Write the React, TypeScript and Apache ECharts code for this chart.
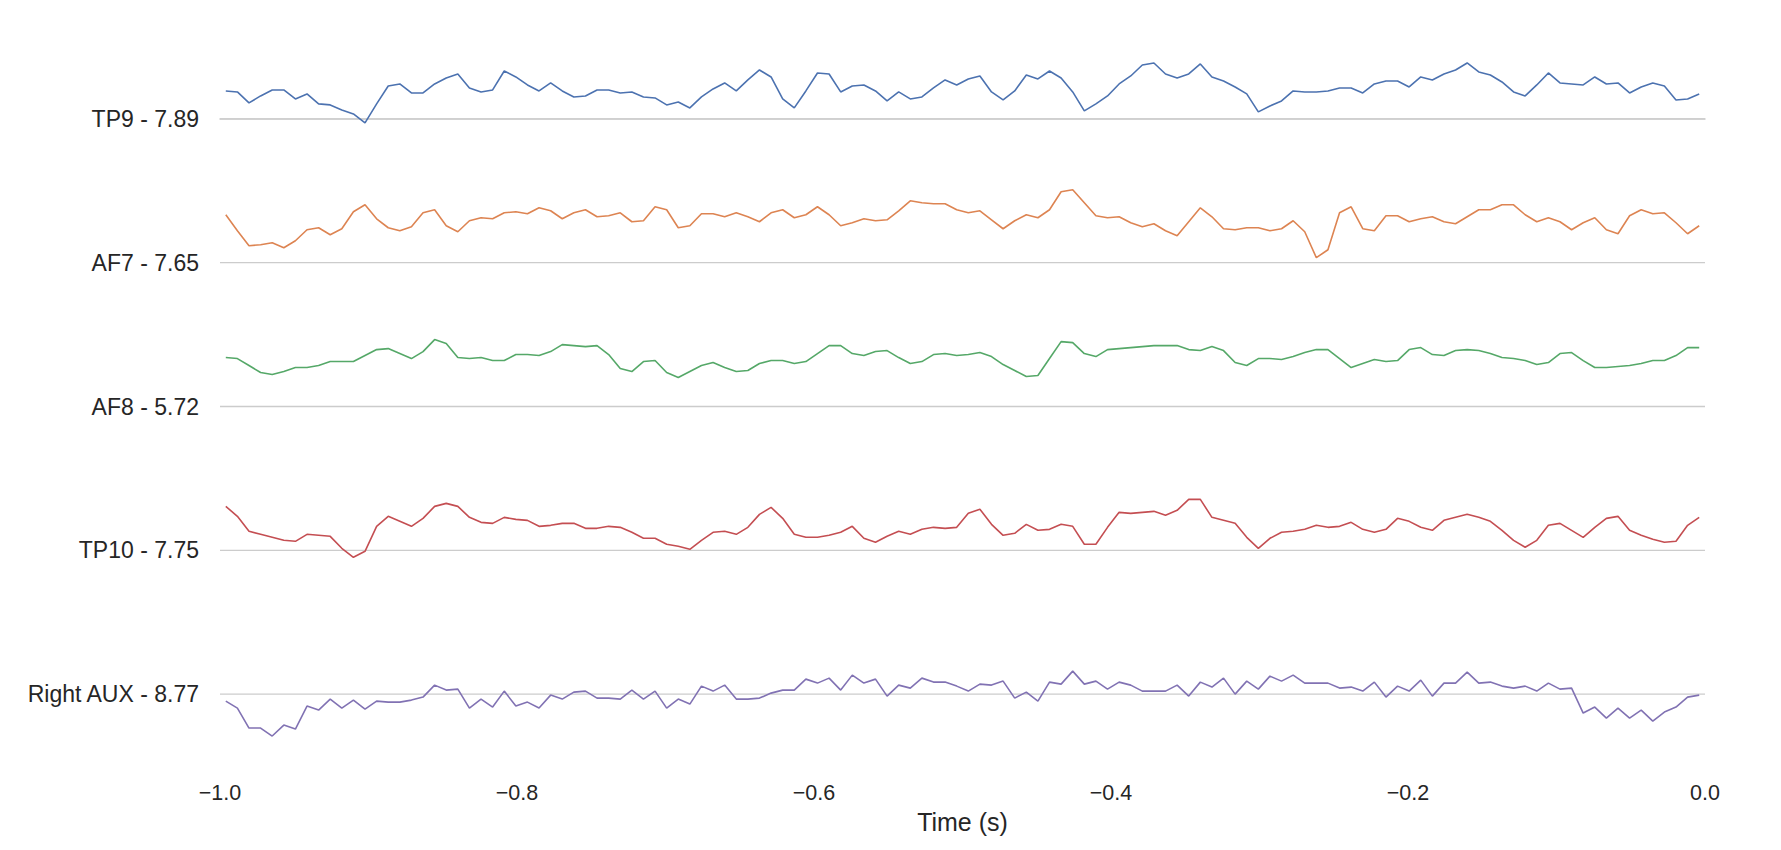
import React, { useEffect, useRef } from "react";
import * as echarts from "echarts";

// Channel labels (top to bottom)
const CHANNELS = ["TP9 - 7.89", "AF7 - 7.65", "AF8 - 5.72", "TP10 - 7.75", "Right AUX - 8.77"];
const COLORS = ["#4C72B0", "#DD8452", "#55A868", "#C44E52", "#8172B3"];
const X_TICKS = [-1.0, -0.8, -0.6, -0.4, -0.2, 0.0];

// Sample rate of the (decimated) traces, 128 samples over the last second
const N_SAMPLES = 128;
const TIME = Array.from({ length: N_SAMPLES }, (_, k) => -1 + (k + 0.5) / N_SAMPLES);

// Amplitudes above each channel's baseline (display units; 144 units = one row)
const ROW_UNITS = 144;

const TP9 = [
  28, 27, 16, 23, 29, 29, 20, 25, 15, 14, 9, 5, -4, 15, 33, 35, 26, 26, 35, 41,
  45, 31, 27, 29, 48, 42, 34, 28, 36, 28, 22, 23, 29, 29, 26, 27, 22, 21, 14, 17,
  11, 22, 30, 36, 28, 39, 49, 42, 20, 11, 28, 46, 45, 27, 33, 34, 28, 18, 27, 20,
  22, 31, 39, 34, 40, 43, 27, 19, 28, 44, 40, 48, 41, 27, 8, 15, 23, 35, 43, 54,
  56, 45, 41, 45, 55, 42, 38, 32, 25, 7, 13, 18, 28, 27, 27, 28, 31, 31, 26, 35,
  38, 38, 32, 42, 39, 45, 49, 56, 47, 44, 37, 27, 23, 34, 46, 36, 35, 34, 42, 35,
  36, 26, 32, 36, 33, 19, 20, 25,
];

const AF7 = [
  48, 32, 17, 18, 20, 15, 22, 33, 35, 28, 34, 51, 58, 44, 35, 32, 36, 50, 53, 37,
  31, 42, 45, 44, 50, 51, 49, 55, 52, 44, 50, 53, 46, 47, 50, 41, 42, 56, 53, 35,
  37, 49, 49, 46, 50, 46, 41, 50, 53, 45, 48, 56, 48, 37, 40, 44, 42, 43, 52, 62,
  60, 59, 59, 53, 50, 52, 43, 34, 42, 48, 45, 53, 71, 73, 60, 47, 45, 46, 40, 36,
  39, 32, 27, 41, 55, 46, 34, 33, 35, 35, 32, 34, 42, 31, 5, 13, 50, 56, 34, 32,
  47, 47, 41, 44, 46, 41, 39, 46, 53, 53, 58, 58, 48, 41, 45, 41, 33, 40, 45, 33,
  29, 47, 53, 49, 50, 40, 29, 37,
];

const AF8 = [
  49, 48, 41, 34, 32, 35, 39, 39, 41, 45, 45, 45, 51, 57, 58, 53, 48, 55, 67, 63,
  49, 48, 49, 46, 46, 52, 52, 51, 55, 62, 61, 60, 61, 52, 38, 35, 45, 46, 34, 29,
  35, 41, 44, 39, 35, 36, 43, 46, 46, 43, 45, 53, 61, 61, 53, 51, 55, 56, 49, 43,
  45, 52, 53, 51, 52, 54, 50, 42, 36, 30, 31, 48, 65, 64, 53, 50, 57, 58, 59, 60,
  61, 61, 61, 57, 56, 60, 56, 44, 41, 48, 48, 47, 50, 54, 57, 57, 48, 39, 43, 47,
  45, 46, 57, 59, 52, 51, 56, 57, 56, 53, 49, 48, 46, 42, 44, 53, 54, 46, 39, 39,
  40, 41, 43, 46, 46, 51, 59, 59,
];

const TP10 = [
  44, 34, 19, 16, 13, 10, 9, 16, 15, 14, 2, -7, -1, 24, 34, 29, 24, 32, 44, 47,
  44, 33, 28, 27, 33, 31, 30, 24, 25, 27, 27, 22, 22, 24, 23, 18, 12, 12, 6, 4,
  1, 10, 18, 19, 16, 23, 36, 43, 32, 16, 13, 13, 15, 18, 24, 12, 8, 14, 19, 16,
  21, 23, 22, 23, 37, 41, 26, 15, 17, 26, 20, 21, 26, 24, 6, 6, 23, 38, 37, 38,
  39, 35, 40, 51, 51, 33, 30, 27, 13, 2, 12, 18, 19, 21, 25, 23, 24, 28, 21, 18,
  21, 32, 29, 23, 20, 30, 33, 36, 33, 29, 20, 10, 3, 10, 25, 27, 20, 13, 23, 32,
  34, 20, 15, 11, 8, 9, 25, 33,
];

const RIGHT_AUX = [
  -7, -14, -34, -34, -42, -31, -35, -12, -16, -5, -14, -6, -15, -7, -8, -8, -6, -3, 9, 4,
  5, -14, -5, -13, 3, -12, -8, -14, -1, -5, 2, 3, -4, -4, -5, 4, -5, 3, -14, -5,
  -10, 8, 3, 9, -5, -5, -4, 1, 4, 4, 15, 11, 16, 4, 19, 11, 15, -2, 9, 6,
  16, 12, 12, 8, 3, 10, 9, 13, -4, 2, -7, 12, 10, 23, 10, 13, 5, 12, 9, 3,
  3, 3, 9, -2, 12, 7, 16, 0, 13, 5, 18, 13, 19, 11, 11, 11, 6, 7, 3, 12,
  -3, 8, 3, 14, -2, 11, 11, 22, 11, 12, 8, 6, 8, 3, 11, 5, 6, -19, -13, -24,
  -14, -24, -16, -27, -18, -13, -3, -1,
];

const TRACES = [TP9, AF7, AF8, TP10, RIGHT_AUX];

const FONT = '"Liberation Sans", Arial, Helvetica, sans-serif';
const TEXT_COLOR = "#262626";
const GRID_COLOR = "#cccccc";

function fmtTick(v: number): string {
  const s = Math.abs(v).toFixed(1);
  return v < -1e-9 ? "\u2212" + s : s;
}

export default function App() {
  const ref = useRef<HTMLDivElement>(null);

  useEffect(() => {
    if (!ref.current) return;
    const chart = echarts.init(ref.current, undefined, { renderer: "svg" });

    const gridSeries = CHANNELS.map((_, i) => ({
      type: "line",
      silent: true,
      symbol: "none",
      z: 1,
      data: [
        [X_TICKS[0], i],
        [X_TICKS[X_TICKS.length - 1], i],
      ],
      lineStyle: { color: GRID_COLOR, width: 1.3 },
    }));

    const traceSeries = TRACES.map((vals, i) => ({
      type: "line",
      name: CHANNELS[i],
      symbol: "none",
      z: 3,
      data: vals.map((v, k) => [TIME[k], i - v / ROW_UNITS]),
      lineStyle: { color: COLORS[i], width: 1.6 },
      itemStyle: { color: COLORS[i] },
    }));

    chart.setOption({
      animation: false,
      backgroundColor: "#ffffff",
      grid: { left: 220, right: 76, top: 47, bottom: 84, containLabel: false },
      xAxis: {
        type: "value",
        min: -1,
        max: 0,
        interval: 0.2,
        name: "Time (s)",
        nameLocation: "middle",
        nameGap: 43,
        nameTextStyle: { fontFamily: FONT, fontSize: 25, color: TEXT_COLOR },
        axisLine: { show: true, lineStyle: { color: GRID_COLOR, width: 1.6 } },
        axisTick: { show: false },
        splitLine: { show: false },
        axisLabel: {
          fontFamily: FONT,
          fontSize: 21.5,
          color: TEXT_COLOR,
          margin: 16,
          formatter: (v: number) => fmtTick(v),
        },
      },
      yAxis: {
        type: "value",
        inverse: true,
        min: -0.5,
        max: 4.5,
        interval: 0.5,
        axisLine: { show: false },
        axisTick: { show: false },
        splitLine: { show: false },
        axisLabel: {
          fontFamily: FONT,
          fontSize: 23,
          color: TEXT_COLOR,
          margin: 21,
          formatter: (v: number) => {
            const r = Math.round(v);
            if (Math.abs(v - r) > 1e-6 || r < 0 || r >= CHANNELS.length) return "";
            return CHANNELS[r];
          },
        },
      },
      series: [...gridSeries, ...traceSeries],
    });

    return () => chart.dispose();
  }, []);

  return (
    <div
      ref={ref}
      style={{ position: "fixed", left: 0, top: 0, width: 1781, height: 850, background: "#fff" }}
    />
  );
}
